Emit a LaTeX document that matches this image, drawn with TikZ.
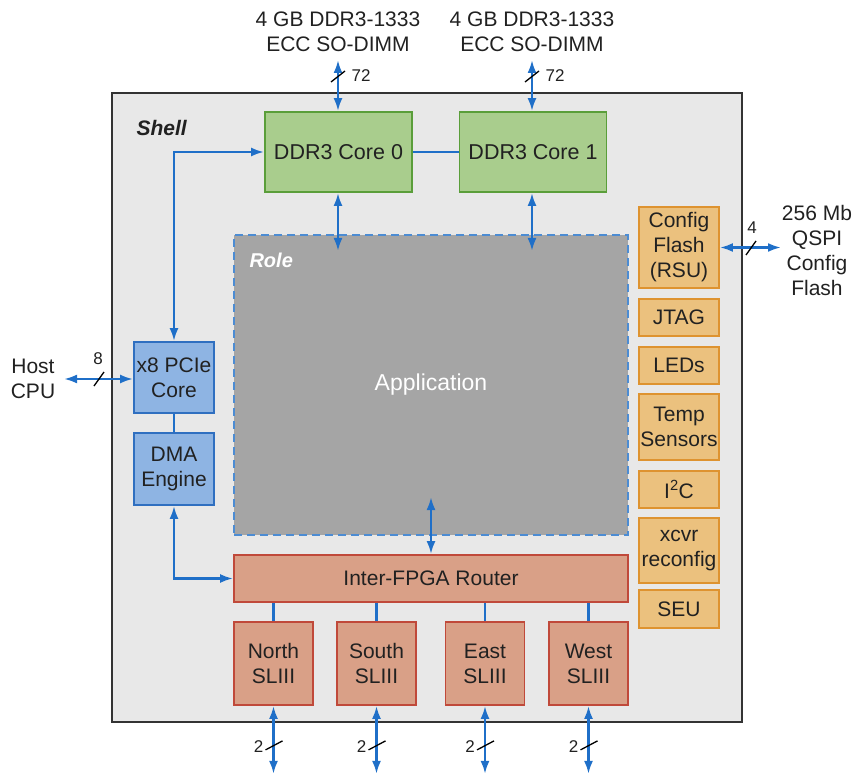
\documentclass[tikz,border=0pt]{standalone}
\usepackage{fontspec}
\setmainfont{Liberation Sans}
\usetikzlibrary{arrows.meta}
\definecolor{linkblue}{HTML}{1F6FC8}
\definecolor{shellfill}{HTML}{E8E8E8}
\definecolor{ddrfill}{HTML}{A9CD8D}
\definecolor{ddrline}{HTML}{5A9E3A}
\definecolor{rolefill}{HTML}{A5A5A5}
\definecolor{cfgfill}{HTML}{EBC17E}
\definecolor{cfgline}{HTML}{DE9330}
\definecolor{pciefill}{HTML}{8EB4E3}
\definecolor{pcieline}{HTML}{2F6FC0}
\definecolor{rtrfill}{HTML}{D9A087}
\definecolor{rtrline}{HTML}{C0493A}

\begin{document}
\begin{tikzpicture}[x=1pt,y=-1pt,>={Latex[length=13pt,width=9pt]},
  font=\fontsize{21}{25}\selectfont,text=black!87,
  blk/.style={draw,line width=1.8pt,inner sep=0pt,align=center},
  ddr/.style={blk,draw=ddrline,fill=ddrfill,minimum width=147pt,minimum height=80pt,
    font=\fontsize{21.5}{26}\selectfont},
  cfg/.style={blk,draw=cfgline,fill=cfgfill,minimum width=80pt},
  pcie/.style={blk,draw=pcieline,fill=pciefill,minimum width=80pt},
  rtr/.style={blk,draw=rtrline,fill=rtrfill},
  sl/.style={rtr,minimum width=79pt,minimum height=83pt},
  link/.style={linkblue,line width=2.4pt},
  slash/.style={black,line width=1.3pt},
  buswidth/.style={font=\fontsize{17}{19}\selectfont}]
  \useasboundingbox (0,0) rectangle (863,773);

  % shell and role
  \node[draw=black!80,line width=1.8pt,fill=shellfill,minimum width=630pt,minimum height=629pt] (shell) at (427,407.5) {};
  \node[anchor=west,font=\fontsize{21}{25}\selectfont\bfseries\itshape] (shelltxt) at (133,128) {Shell};
  \node[draw=linkblue!80,dash pattern=on 8pt off 5pt,line width=1.6pt,fill=rolefill,text=white,
    font=\fontsize{23}{27}\selectfont,minimum width=394pt,minimum height=300pt] (role) at (431,385) {Application};
  \node[anchor=west,text=white,font=\fontsize{20}{25}\selectfont\bfseries\itshape] (roletxt) at (246,260) {Role};

  % memory
  \node[ddr] (ddr0) at (338.5,152) {DDR3 Core 0};
  \node[ddr] (ddr1) at (533,152) {DDR3 Core 1};
  \draw[link] (ddr0) -- (ddr1);
  \node[align=center] (dimm0) at (338,31.5) {4 GB DDR3-1333\\ECC SO-DIMM};
  \node[align=center] (dimm1) at (532,31.5) {4 GB DDR3-1333\\ECC SO-DIMM};
  \coordinate (d0) at (338,60);
  \coordinate (d1) at (532,60);
  \draw[link,<->] (d0) -- (d0 |- ddr0.north);
  \draw[link,<->] (d1) -- (d1 |- ddr1.north);
  \foreach \x in {338,532} {
    \draw[slash] (\x-7,82) -- (\x+7,71);
    \node[buswidth] (w\x) at (\x+23,76) {72};
  }
  \coordinate (r0) at (338,251);
  \coordinate (r1) at (532,251);
  \draw[link,<->] (r0 |- ddr0.south) -- (r0);
  \draw[link,<->] (r1 |- ddr1.south) -- (r1);

  % config column
  \node[cfg,minimum height=81pt] (flash) at (679,247.5) {Config\\Flash\\(RSU)};
  \node[cfg,minimum height=37pt] (jtag) at (679,317.5) {JTAG};
  \node[cfg,minimum height=37pt] (leds) at (679,365.5) {LEDs};
  \node[cfg,minimum height=66pt] (temp) at (679,427) {Temp\\Sensors};
  \node[cfg,minimum height=37pt] (i2c) at (679,489.5) {I\textsuperscript{2}C};
  \node[cfg,minimum height=65pt] (xcvr) at (679,550.5) {xcvr\\reconfig};
  \node[cfg,minimum height=38pt] (seu) at (679,609) {SEU};
  \node[align=center] (qspi) at (817,250) {256 Mb\\QSPI\\Config\\Flash};
  \coordinate (q) at (781,247.5);
  \draw[link,<->] (flash.east) -- (q);
  \draw[slash] (746,255) -- (756,241);
  \node[buswidth] (w4) at (752,228) {4};

  % host side
  \node[pcie,minimum height=71pt] (pcie) at (174,377.5) {x8 PCIe\\Core};
  \node[pcie,minimum height=72pt] (dma) at (174,469) {DMA\\Engine};
  \draw[link] (pcie) -- (dma);
  \node[align=center] (host) at (33,379) {Host\\CPU};
  \coordinate (h) at (64,379);
  \draw[link,<->] (h) -- (h -| pcie.west);
  \draw[slash] (94,386) -- (104,372);
  \node[buswidth] (w8) at (98,359) {8};
  \draw[link,<->] (pcie.north) |- (ddr0.west);

  % router and serial links
  \node[rtr,minimum width=394pt,minimum height=47pt] (router) at (431,578.5) {Inter-FPGA Router};
  \draw[link,<->] (dma.south) |- (router.west);
  \coordinate (rb) at (431,497);
  \draw[link,<->] (rb) -- (router.north);
  \node[sl] (north) at (273.5,663.5) {North\\SLIII};
  \node[sl] (south) at (376.5,663.5) {South\\SLIII};
  \node[sl] (east) at (485,663.5) {East\\SLIII};
  \node[sl] (west) at (588.5,663.5) {West\\SLIII};
  \foreach \n in {north,south,east,west} {
    \draw[link] (\n.north) -- (\n.north |- router.south);
    \coordinate (\n b) at ([yshift=-68pt]\n.south);
    \draw[link,<->] (\n.south) -- (\n b);
    \draw[slash] ([shift={(-8,-24)}]\n b) -- ([shift={(9,-33)}]\n b);
    \node[buswidth] (w\n) at ([shift={(-15,-27)}]\n b) {2};
  }
\end{tikzpicture}
\end{document}
